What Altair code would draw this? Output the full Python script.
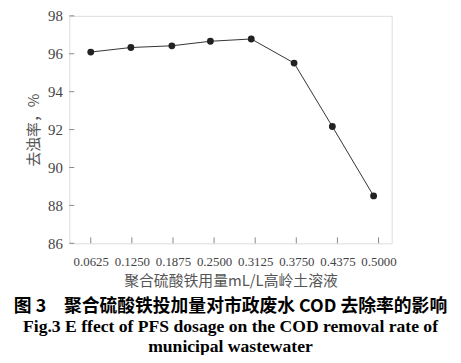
import altair as alt
import pandas as pd

# category labels (dosage, mL/L) and point positions
dosage_ticks = [0.0625, 0.1250, 0.1875, 0.2500, 0.3125, 0.3750, 0.4375, 0.5000]
dosage_pos = [0.0625, 0.1235, 0.1858, 0.2444, 0.3065, 0.3716, 0.4298, 0.4925]
removal = [96.09, 96.33, 96.42, 96.66, 96.78, 95.51, 92.16, 88.50]
y_ticks = [86, 88, 90, 92, 94, 96, 98]

W, H = 326, 230

df = pd.DataFrame({"dosage": dosage_pos, "removal": removal})
df_xt = pd.DataFrame({"t": dosage_ticks})
df_yt = pd.DataFrame({"t": y_ticks})

xscale = alt.Scale(domain=[0.0299, 0.52], nice=False, zero=False)
yscale = alt.Scale(domain=[86, 98], nice=False, zero=False)

xaxis = alt.Axis(
    values=dosage_ticks, format=".4f",
    ticks=False, domain=False, grid=False, labelOverlap=False,
    labelPadding=12, labelFont="Liberation Serif", labelFontSize=13,
    labelColor="#444", labelFlush=False,
    title="聚合硫酸铁用量mL/L高岭土溶液",
    titleFont="Noto Sans CJK SC", titleFontSize=15, titleFontWeight="normal",
    titleColor="#555", titlePadding=6,
)
yaxis = alt.Axis(
    values=y_ticks, format="d",
    ticks=False, domain=False, grid=False, labelOverlap=False,
    labelPadding=7, labelFont="Liberation Serif", labelFontSize=15,
    labelColor="#444",
    title="去浊率，%",
    titleFont="Noto Sans CJK SC", titleFontSize=15, titleFontWeight="normal",
    titleColor="#555", titlePadding=6,
)

line = alt.Chart(df).mark_line(color="#333", strokeWidth=1).encode(
    x=alt.X("dosage:Q", scale=xscale, axis=xaxis),
    y=alt.Y("removal:Q", scale=yscale, axis=yaxis),
)
pts = alt.Chart(df).mark_point(filled=True, color="#222", size=48, opacity=1).encode(
    x=alt.X("dosage:Q", scale=xscale, axis=xaxis),
    y=alt.Y("removal:Q", scale=yscale, axis=yaxis),
)
xt = alt.Chart(df_xt).mark_rule(color="#888", strokeWidth=1).encode(
    x=alt.X("t:Q", scale=xscale, axis=xaxis),
    y=alt.value(H),
    y2=alt.value(H - 6),
)
yt = alt.Chart(df_yt).mark_rule(color="#888", strokeWidth=1).encode(
    y=alt.Y("t:Q", scale=yscale, axis=yaxis),
    x=alt.value(0),
    x2=alt.value(5),
)

chart = alt.layer(line, pts, xt, yt).properties(
    width=W, height=H,
    autosize=alt.AutoSizeParams(type="none"),
    padding={"left": 62, "top": 6, "right": 62, "bottom": 111},
    title=alt.TitleParams(
        text="图 3　聚合硫酸铁投加量对市政废水 COD 去除率的影响",
        subtitle=["Fig.3 E ffect of PFS dosage on the COD removal rate of",
                  "municipal wastewater"],
        orient="bottom", anchor="middle",
        font="Noto Sans CJK SC", fontSize=18, fontWeight="bold", color="black",
        subtitleFont="Liberation Serif", subtitleFontSize=17.8,
        subtitleFontWeight="bold", subtitleColor="black",
        subtitleLineHeight=20, subtitlePadding=3, offset=9,
    ),
).configure_view(stroke="#808080", strokeWidth=1).configure_axis(
    labelOverlap=False
).configure(background="white")

chart.save("out.html", embed_options={"renderer": "svg", "actions": False})
